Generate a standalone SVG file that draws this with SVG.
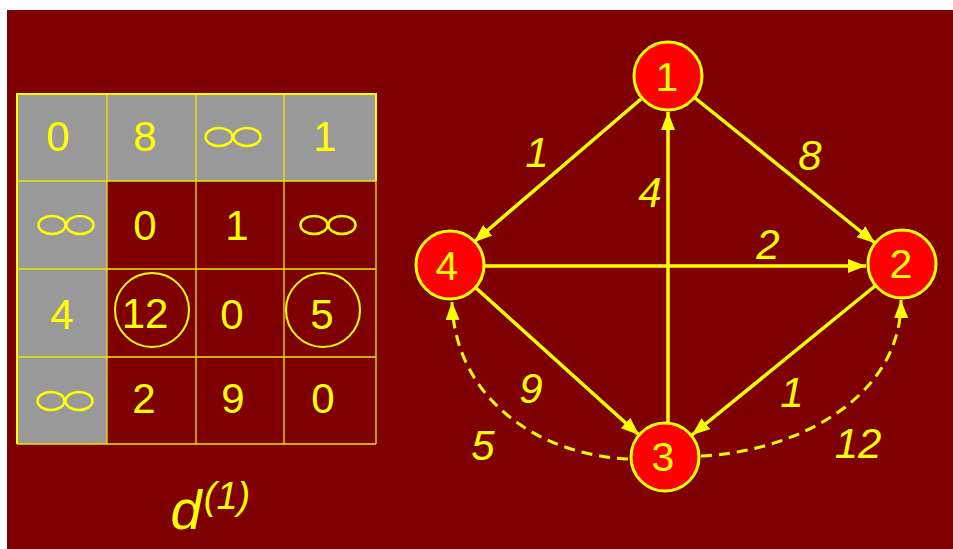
<svg xmlns="http://www.w3.org/2000/svg" width="953" height="549" viewBox="0 0 953 549">
<style>
.t{font-family:"Liberation Sans",Arial,sans-serif;fill:#ffff00;text-anchor:middle}
.cell{font-size:42px}
.lbl{font-size:42px;font-style:italic}
.node circle{fill:#ff0000;stroke:#ffff00;stroke-width:3}
.node text{font-size:41px}
.grid{stroke:#e8e800;stroke-width:1.3;fill:none}
.inf{fill:none;stroke:#ffff00;stroke-width:2.5}
.edge{stroke:#ffff00;stroke-width:3.5;fill:none}
.dash{stroke:#ffff00;stroke-width:3;fill:none;stroke-dasharray:11 7}
</style>
<defs>
<marker id="ah" markerUnits="userSpaceOnUse" markerWidth="20" markerHeight="16" refX="18" refY="7" orient="auto">
<path d="M0,0 L18,7 L0,14 Z" fill="#ffff00"/>
</marker>
<g id="infsym"><ellipse cx="-14" cy="0" rx="13.5" ry="9" class="inf"/><ellipse cx="14" cy="0" rx="13.5" ry="9" class="inf"/></g>
</defs>
<rect x="7" y="10" width="946" height="539" fill="#7f0000"/>
<g id="matrix">
<rect x="17" y="94" width="359" height="87" fill="#999999"/>
<rect x="17" y="181" width="90" height="263" fill="#999999"/>
<g class="grid">
<line x1="17" y1="94" x2="17" y2="444"/>
<line x1="107" y1="94" x2="107" y2="444"/>
<line x1="196" y1="94" x2="196" y2="444"/>
<line x1="284" y1="94" x2="284" y2="444"/>
<line x1="376" y1="94" x2="376" y2="444"/>
<line x1="17" y1="94" x2="376" y2="94"/>
<line x1="17" y1="181" x2="376" y2="181"/>
<line x1="17" y1="269" x2="376" y2="269"/>
<line x1="17" y1="357" x2="376" y2="357"/>
<line x1="17" y1="444" x2="376" y2="444"/>
</g>
<path d="M17,444 L17,94 L376,94 L376,181" fill="none" stroke="#ffff00" stroke-width="2"/>
<text class="t cell" x="58" y="151">0</text>
<text class="t cell" x="145" y="151">8</text>
<use href="#infsym" x="233" y="137"/>
<text class="t cell" x="325" y="151">1</text>
<use href="#infsym" x="66" y="225"/>
<text class="t cell" x="145" y="240">0</text>
<text class="t cell" x="237" y="240">1</text>
<use href="#infsym" x="328" y="225"/>
<text class="t cell" x="62" y="329">4</text>
<text class="t cell" x="145" y="328">12</text>
<circle cx="152" cy="310" r="37" fill="none" stroke="#ffff00" stroke-width="2"/>
<text class="t cell" x="232" y="329">0</text>
<text class="t cell" x="322" y="329">5</text>
<circle cx="323" cy="310" r="37" fill="none" stroke="#ffff00" stroke-width="2"/>
<use href="#infsym" x="65" y="401"/>
<text class="t cell" x="144" y="413">2</text>
<text class="t cell" x="233" y="413">9</text>
<text class="t cell" x="323" y="413">0</text>
<text class="t" style="font-size:56px;font-style:italic" x="186" y="529">d</text>
<text class="t" style="font-size:38px;font-style:italic" x="227" y="509">(1)</text>
</g>
<g id="connectors">
<line class="edge" x1="641" y1="99" x2="474" y2="242" marker-end="url(#ah)"/>
<line class="edge" x1="695" y1="98" x2="875" y2="243" marker-end="url(#ah)"/>
<line class="edge" x1="484" y1="266" x2="866" y2="266" marker-end="url(#ah)"/>
<line class="edge" x1="668" y1="422" x2="668" y2="112" marker-end="url(#ah)"/>
<line class="edge" x1="476" y1="288" x2="639" y2="435" marker-end="url(#ah)"/>
<line class="edge" x1="875" y1="286" x2="692" y2="435" marker-end="url(#ah)"/>
<path class="dash" d="M628,459 C540,455 455,400 452,302" marker-end="url(#ah)"/>
<path class="dash" d="M701,456 C795,452 902,398 901,300" marker-end="url(#ah)"/>
<text class="t lbl" x="537" y="167">1</text>
<text class="t lbl" x="810" y="170">8</text>
<text class="t lbl" x="650" y="207">4</text>
<text class="t lbl" x="768" y="259">2</text>
<text class="t lbl" x="531" y="403">9</text>
<text class="t lbl" x="792" y="407">1</text>
<text class="t lbl" x="483" y="460">5</text>
<text class="t lbl" x="858" y="458">12</text>
</g>
<g id="node1" class="node"><circle cx="668" cy="76" r="34"/><text class="t" x="667" y="91">1</text></g>
<g id="node2" class="node"><circle cx="902" cy="264" r="34"/><text class="t" x="901" y="278">2</text></g>
<g id="node3" class="node"><circle cx="665" cy="457" r="34"/><text class="t" x="663" y="471">3</text></g>
<g id="node4" class="node"><circle cx="450" cy="265" r="34"/><text class="t" x="447" y="280">4</text></g>
</svg>
